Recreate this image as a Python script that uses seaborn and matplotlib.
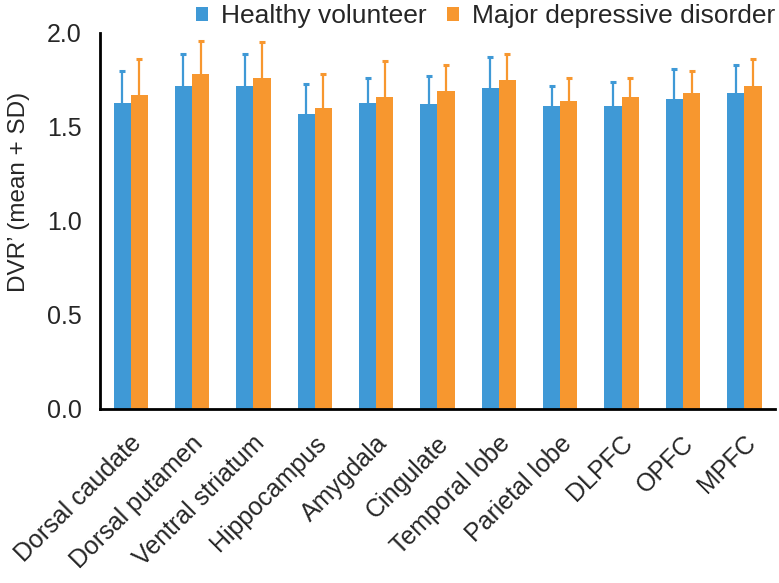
import numpy as np
import pandas as pd
import matplotlib
matplotlib.use('Agg')
import matplotlib.pyplot as plt
import matplotlib.transforms as mtrans
import seaborn as sns

regions = ['Dorsal caudate', 'Dorsal putamen', 'Ventral striatum', 'Hippocampus',
           'Amygdala', 'Cingulate', 'Temporal lobe', 'Parietal lobe', 'DLPFC', 'OPFC', 'MPFC']
groups = ['Healthy volunteer', 'Major depressive disorder']
hv_mean = [1.63, 1.72, 1.72, 1.57, 1.63, 1.62, 1.71, 1.61, 1.61, 1.65, 1.68]
hv_sd = [0.17, 0.17, 0.17, 0.16, 0.13, 0.15, 0.16, 0.11, 0.13, 0.16, 0.15]
mdd_mean = [1.67, 1.78, 1.76, 1.60, 1.66, 1.69, 1.75, 1.64, 1.66, 1.68, 1.72]
mdd_sd = [0.19, 0.18, 0.19, 0.18, 0.19, 0.14, 0.14, 0.12, 0.10, 0.12, 0.14]
colors = ['#3f99d6', '#f7972f']

df = pd.DataFrame({
    'region': regions * 2,
    'group': [groups[0]] * len(regions) + [groups[1]] * len(regions),
    'value': hv_mean + mdd_mean,
})

sns.set_style('white')
plt.rcParams['font.family'] = ['Liberation Sans', 'DejaVu Sans']
fs = 18

fig = plt.figure(figsize=(7.79, 5.83), dpi=100)
ax = fig.add_axes([100 / 779, 1 - 409 / 583, 675 / 779, 376 / 583])

sns.barplot(data=df, x='region', y='value', hue='group', palette=colors,
            width=0.56, errorbar=None, saturation=1, linewidth=0, ax=ax, legend=True)

# upper-only SD bars, same colour as the bar
for cont, sd, col in zip(ax.containers, [hv_sd, mdd_sd], colors):
    xs = [b.get_x() + b.get_width() / 2 for b in cont]
    ys = [b.get_height() for b in cont]
    eb = ax.errorbar(xs, ys, yerr=[np.zeros(len(sd)), sd], fmt='none', ecolor=col,
                     elinewidth=1.6, capsize=2.5, capthick=2.2)
    eb[1][0].set_visible(False)  # no cap at the bar top

ax.set_ylim(0, 2.0)
ax.set_xlim(-0.5, len(regions) - 0.5)
ax.set_yticks([0, 0.5, 1.0, 1.5, 2.0])
ax.set_yticklabels(['0.0', '0.5', '1.0', '1.5', '2.0'], fontsize=fs)
ax.set_xticks(range(len(regions)))
ax.set_xticklabels(regions, rotation=45, ha='right', rotation_mode='anchor', fontsize=fs)
ax.set_xticks(np.arange(-0.5, len(regions), 1.0), minor=True)
ax.tick_params(axis='x', which='major', length=0, pad=8)
ax.tick_params(axis='x', which='minor', length=4, width=2, color='black', direction='out')
ax.tick_params(axis='y', length=4, width=2, color='black', direction='out', pad=9)
off = mtrans.ScaledTranslation(-1 / 100, -11 / 100, fig.dpi_scale_trans)
for lab in ax.get_xticklabels():
    lab.set_transform(lab.get_transform() + off)
ax.set_xlabel('')
ax.set_ylabel('DVR\u2019 (mean + SD)', fontsize=17.5)
ax.yaxis.set_label_coords(-0.104, 0.577)

for s in ['top', 'right']:
    ax.spines[s].set_visible(False)
for s in ['left', 'bottom']:
    ax.spines[s].set_color('black')
    ax.spines[s].set_linewidth(2)

ax.legend(loc='center right', bbox_to_anchor=(1.0, 1.045), ncol=2, frameon=False,
          fontsize=19, handlelength=0.45, handleheight=0.45, handletextpad=0.5,
          columnspacing=0.75, borderaxespad=0, borderpad=0)

fig.savefig('out.png', dpi=100)
